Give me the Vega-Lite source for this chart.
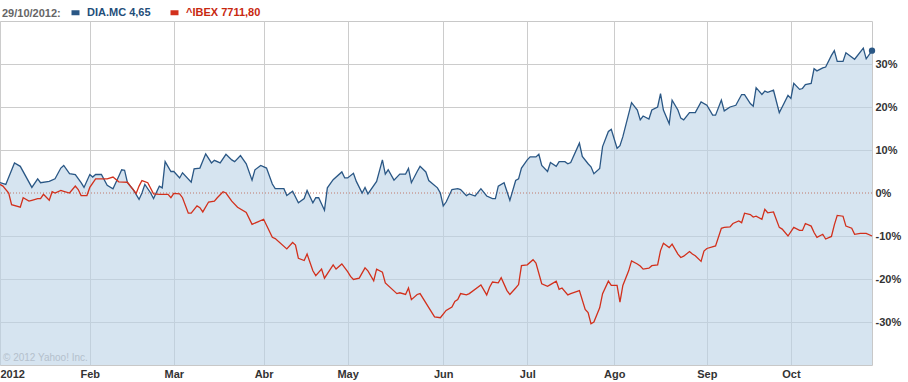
{
"$schema": "https://vega.github.io/schema/vega-lite/v6.json",
"width": 872, "height": 344,
"autosize": {"type": "none"},
"padding": {"left": 0, "top": 21, "right": 36, "bottom": 17},
"background": "white",
"config": {"view": {"stroke": "#c8c8c8", "strokeWidth": 1}, "font": "Liberation Sans"},
"datasets": {
"credit": [{"d": "2012-01-02", "v": -38.3, "t": "© 2012 Yahoo! Inc."}],
"zero": [{"v": 0}],
"prices": [
{"d":"2012-01-02","s":"DIA.MC","v":2.4},{"d":"2012-01-04","s":"DIA.MC","v":2.0},{"d":"2012-01-07","s":"DIA.MC","v":7.0},{"d":"2012-01-09","s":"DIA.MC","v":6.2},{"d":"2012-01-13","s":"DIA.MC","v":1.3},{"d":"2012-01-15","s":"DIA.MC","v":3.3},{"d":"2012-01-16","s":"DIA.MC","v":2.4},{"d":"2012-01-19","s":"DIA.MC","v":2.7},{"d":"2012-01-21","s":"DIA.MC","v":3.3},{"d":"2012-01-23","s":"DIA.MC","v":5.8},{"d":"2012-01-24","s":"DIA.MC","v":6.4},{"d":"2012-01-26","s":"DIA.MC","v":4.5},{"d":"2012-01-28","s":"DIA.MC","v":4.3},{"d":"2012-01-30","s":"DIA.MC","v":2.4},{"d":"2012-01-31","s":"DIA.MC","v":1.3},
{"d":"2012-02-02","s":"DIA.MC","v":4.3},{"d":"2012-02-03","s":"DIA.MC","v":3.7},{"d":"2012-02-04","s":"DIA.MC","v":4.3},{"d":"2012-02-06","s":"DIA.MC","v":4.3},{"d":"2012-02-08","s":"DIA.MC","v":1.8},{"d":"2012-02-10","s":"DIA.MC","v":1.0},{"d":"2012-02-12","s":"DIA.MC","v":3.9},{"d":"2012-02-13","s":"DIA.MC","v":5.4},{"d":"2012-02-14","s":"DIA.MC","v":5.3},{"d":"2012-02-15","s":"DIA.MC","v":2.4},{"d":"2012-02-17","s":"DIA.MC","v":0.8},{"d":"2012-02-19","s":"DIA.MC","v":-1.5},{"d":"2012-02-20","s":"DIA.MC","v":0.0},{"d":"2012-02-21","s":"DIA.MC","v":2.0},{"d":"2012-02-23","s":"DIA.MC","v":0.0},{"d":"2012-02-24","s":"DIA.MC","v":-1.3},{"d":"2012-02-26","s":"DIA.MC","v":1.6},{"d":"2012-02-27","s":"DIA.MC","v":1.2},{"d":"2012-02-28","s":"DIA.MC","v":7.3},
{"d":"2012-03-01","s":"DIA.MC","v":5.0},{"d":"2012-03-02","s":"DIA.MC","v":5.0},{"d":"2012-03-04","s":"DIA.MC","v":3.5},{"d":"2012-03-05","s":"DIA.MC","v":4.7},{"d":"2012-03-08","s":"DIA.MC","v":2.5},{"d":"2012-03-09","s":"DIA.MC","v":5.6},{"d":"2012-03-11","s":"DIA.MC","v":5.8},{"d":"2012-03-13","s":"DIA.MC","v":9.1},{"d":"2012-03-15","s":"DIA.MC","v":7.0},{"d":"2012-03-16","s":"DIA.MC","v":7.6},{"d":"2012-03-18","s":"DIA.MC","v":7.0},{"d":"2012-03-20","s":"DIA.MC","v":9.0},{"d":"2012-03-22","s":"DIA.MC","v":7.7},{"d":"2012-03-23","s":"DIA.MC","v":7.3},{"d":"2012-03-25","s":"DIA.MC","v":8.7},{"d":"2012-03-27","s":"DIA.MC","v":6.8},{"d":"2012-03-29","s":"DIA.MC","v":3.0},{"d":"2012-03-30","s":"DIA.MC","v":5.4},
{"d":"2012-04-01","s":"DIA.MC","v":6.4},{"d":"2012-04-03","s":"DIA.MC","v":5.8},{"d":"2012-04-05","s":"DIA.MC","v":2.1},{"d":"2012-04-06","s":"DIA.MC","v":1.0},{"d":"2012-04-09","s":"DIA.MC","v":1.0},{"d":"2012-04-10","s":"DIA.MC","v":-0.6},{"d":"2012-04-12","s":"DIA.MC","v":0.4},{"d":"2012-04-14","s":"DIA.MC","v":-2.3},{"d":"2012-04-16","s":"DIA.MC","v":-1.3},{"d":"2012-04-17","s":"DIA.MC","v":0.6},{"d":"2012-04-19","s":"DIA.MC","v":-2.3},{"d":"2012-04-20","s":"DIA.MC","v":-1.1},{"d":"2012-04-21","s":"DIA.MC","v":-1.1},{"d":"2012-04-23","s":"DIA.MC","v":-4.0},{"d":"2012-04-24","s":"DIA.MC","v":1.2},{"d":"2012-04-26","s":"DIA.MC","v":3.1},{"d":"2012-04-29","s":"DIA.MC","v":4.9},{"d":"2012-04-30","s":"DIA.MC","v":3.5},
{"d":"2012-05-01","s":"DIA.MC","v":3.5},{"d":"2012-05-03","s":"DIA.MC","v":4.6},{"d":"2012-05-04","s":"DIA.MC","v":2.7},{"d":"2012-05-06","s":"DIA.MC","v":0.0},{"d":"2012-05-07","s":"DIA.MC","v":1.3},{"d":"2012-05-08","s":"DIA.MC","v":-0.2},{"d":"2012-05-11","s":"DIA.MC","v":2.7},{"d":"2012-05-13","s":"DIA.MC","v":7.7},{"d":"2012-05-14","s":"DIA.MC","v":4.4},{"d":"2012-05-15","s":"DIA.MC","v":5.4},{"d":"2012-05-17","s":"DIA.MC","v":3.0},{"d":"2012-05-19","s":"DIA.MC","v":4.4},{"d":"2012-05-21","s":"DIA.MC","v":4.4},{"d":"2012-05-22","s":"DIA.MC","v":5.7},{"d":"2012-05-23","s":"DIA.MC","v":2.4},{"d":"2012-05-25","s":"DIA.MC","v":5.0},{"d":"2012-05-26","s":"DIA.MC","v":6.2},{"d":"2012-05-28","s":"DIA.MC","v":4.9},{"d":"2012-05-29","s":"DIA.MC","v":2.9},
{"d":"2012-06-01","s":"DIA.MC","v":1.2},{"d":"2012-06-02","s":"DIA.MC","v":0.0},{"d":"2012-06-03","s":"DIA.MC","v":-3.0},{"d":"2012-06-04","s":"DIA.MC","v":-2.1},{"d":"2012-06-06","s":"DIA.MC","v":0.8},{"d":"2012-06-08","s":"DIA.MC","v":1.0},{"d":"2012-06-09","s":"DIA.MC","v":0.8},{"d":"2012-06-11","s":"DIA.MC","v":-0.6},{"d":"2012-06-12","s":"DIA.MC","v":-0.2},{"d":"2012-06-14","s":"DIA.MC","v":-0.7},{"d":"2012-06-16","s":"DIA.MC","v":1.0},{"d":"2012-06-18","s":"DIA.MC","v":-0.7},{"d":"2012-06-20","s":"DIA.MC","v":-1.3},{"d":"2012-06-21","s":"DIA.MC","v":-1.3},{"d":"2012-06-22","s":"DIA.MC","v":1.6},{"d":"2012-06-24","s":"DIA.MC","v":2.4},{"d":"2012-06-26","s":"DIA.MC","v":-1.7},{"d":"2012-06-28","s":"DIA.MC","v":2.9},{"d":"2012-06-29","s":"DIA.MC","v":3.3},{"d":"2012-06-30","s":"DIA.MC","v":5.8},
{"d":"2012-07-02","s":"DIA.MC","v":7.7},{"d":"2012-07-03","s":"DIA.MC","v":8.4},{"d":"2012-07-05","s":"DIA.MC","v":8.4},{"d":"2012-07-06","s":"DIA.MC","v":9.0},{"d":"2012-07-07","s":"DIA.MC","v":6.4},{"d":"2012-07-09","s":"DIA.MC","v":5.0},{"d":"2012-07-10","s":"DIA.MC","v":7.1},{"d":"2012-07-12","s":"DIA.MC","v":6.2},{"d":"2012-07-13","s":"DIA.MC","v":7.3},{"d":"2012-07-15","s":"DIA.MC","v":7.3},{"d":"2012-07-16","s":"DIA.MC","v":6.8},{"d":"2012-07-17","s":"DIA.MC","v":7.1},{"d":"2012-07-20","s":"DIA.MC","v":11.6},{"d":"2012-07-21","s":"DIA.MC","v":8.5},{"d":"2012-07-23","s":"DIA.MC","v":6.8},{"d":"2012-07-24","s":"DIA.MC","v":6.1},{"d":"2012-07-25","s":"DIA.MC","v":4.5},{"d":"2012-07-27","s":"DIA.MC","v":5.7},{"d":"2012-07-28","s":"DIA.MC","v":10.8},{"d":"2012-07-30","s":"DIA.MC","v":14.3},{"d":"2012-07-31","s":"DIA.MC","v":14.8},
{"d":"2012-08-02","s":"DIA.MC","v":10.4},{"d":"2012-08-03","s":"DIA.MC","v":11.0},{"d":"2012-08-04","s":"DIA.MC","v":13.1},{"d":"2012-08-07","s":"DIA.MC","v":21.0},{"d":"2012-08-09","s":"DIA.MC","v":19.3},{"d":"2012-08-10","s":"DIA.MC","v":17.0},{"d":"2012-08-11","s":"DIA.MC","v":17.9},{"d":"2012-08-13","s":"DIA.MC","v":17.2},{"d":"2012-08-14","s":"DIA.MC","v":19.3},{"d":"2012-08-16","s":"DIA.MC","v":20.0},{"d":"2012-08-17","s":"DIA.MC","v":23.1},{"d":"2012-08-18","s":"DIA.MC","v":19.3},{"d":"2012-08-20","s":"DIA.MC","v":16.1},{"d":"2012-08-21","s":"DIA.MC","v":21.6},{"d":"2012-08-23","s":"DIA.MC","v":19.3},{"d":"2012-08-24","s":"DIA.MC","v":17.4},{"d":"2012-08-25","s":"DIA.MC","v":17.0},{"d":"2012-08-27","s":"DIA.MC","v":18.7},{"d":"2012-08-29","s":"DIA.MC","v":18.7},{"d":"2012-08-31","s":"DIA.MC","v":21.2},
{"d":"2012-09-02","s":"DIA.MC","v":20.4},{"d":"2012-09-04","s":"DIA.MC","v":18.1},{"d":"2012-09-05","s":"DIA.MC","v":18.1},{"d":"2012-09-07","s":"DIA.MC","v":21.6},{"d":"2012-09-08","s":"DIA.MC","v":19.1},{"d":"2012-09-10","s":"DIA.MC","v":20.0},{"d":"2012-09-12","s":"DIA.MC","v":20.4},{"d":"2012-09-14","s":"DIA.MC","v":22.9},{"d":"2012-09-15","s":"DIA.MC","v":22.9},{"d":"2012-09-17","s":"DIA.MC","v":20.8},{"d":"2012-09-18","s":"DIA.MC","v":20.2},{"d":"2012-09-19","s":"DIA.MC","v":24.5},{"d":"2012-09-21","s":"DIA.MC","v":22.9},{"d":"2012-09-22","s":"DIA.MC","v":23.7},{"d":"2012-09-23","s":"DIA.MC","v":23.4},{"d":"2012-09-25","s":"DIA.MC","v":23.9},{"d":"2012-09-27","s":"DIA.MC","v":18.7},{"d":"2012-09-28","s":"DIA.MC","v":20.0},{"d":"2012-09-30","s":"DIA.MC","v":22.7},
{"d":"2012-10-01","s":"DIA.MC","v":22.0},{"d":"2012-10-02","s":"DIA.MC","v":25.5},{"d":"2012-10-04","s":"DIA.MC","v":24.1},{"d":"2012-10-05","s":"DIA.MC","v":24.3},{"d":"2012-10-06","s":"DIA.MC","v":25.2},{"d":"2012-10-08","s":"DIA.MC","v":25.5},{"d":"2012-10-09","s":"DIA.MC","v":28.9},{"d":"2012-10-10","s":"DIA.MC","v":28.4},{"d":"2012-10-12","s":"DIA.MC","v":29.1},{"d":"2012-10-13","s":"DIA.MC","v":29.3},{"d":"2012-10-15","s":"DIA.MC","v":32.0},{"d":"2012-10-16","s":"DIA.MC","v":33.1},{"d":"2012-10-17","s":"DIA.MC","v":30.6},{"d":"2012-10-19","s":"DIA.MC","v":30.6},{"d":"2012-10-20","s":"DIA.MC","v":32.6},{"d":"2012-10-23","s":"DIA.MC","v":31.1},{"d":"2012-10-26","s":"DIA.MC","v":33.7},{"d":"2012-10-27","s":"DIA.MC","v":31.2},{"d":"2012-10-29","s":"DIA.MC","v":33.1},
{"d":"2012-01-02","s":"^IBEX","v":2.0},{"d":"2012-01-03","s":"^IBEX","v":1.6},{"d":"2012-01-05","s":"^IBEX","v":0.0},{"d":"2012-01-06","s":"^IBEX","v":-2.7},{"d":"2012-01-09","s":"^IBEX","v":-3.3},{"d":"2012-01-10","s":"^IBEX","v":-1.1},{"d":"2012-01-12","s":"^IBEX","v":-1.9},{"d":"2012-01-13","s":"^IBEX","v":-1.7},{"d":"2012-01-15","s":"^IBEX","v":-1.3},{"d":"2012-01-16","s":"^IBEX","v":-1.3},{"d":"2012-01-17","s":"^IBEX","v":-0.3},{"d":"2012-01-19","s":"^IBEX","v":-1.7},{"d":"2012-01-20","s":"^IBEX","v":0.3},{"d":"2012-01-21","s":"^IBEX","v":0.0},{"d":"2012-01-23","s":"^IBEX","v":0.6},{"d":"2012-01-24","s":"^IBEX","v":0.4},{"d":"2012-01-26","s":"^IBEX","v":0.0},{"d":"2012-01-28","s":"^IBEX","v":1.6},{"d":"2012-01-29","s":"^IBEX","v":0.8},{"d":"2012-01-30","s":"^IBEX","v":-0.6},
{"d":"2012-02-01","s":"^IBEX","v":-0.6},{"d":"2012-02-02","s":"^IBEX","v":1.3},{"d":"2012-02-04","s":"^IBEX","v":3.3},{"d":"2012-02-06","s":"^IBEX","v":3.3},{"d":"2012-02-08","s":"^IBEX","v":3.3},{"d":"2012-02-10","s":"^IBEX","v":3.7},{"d":"2012-02-12","s":"^IBEX","v":2.6},{"d":"2012-02-15","s":"^IBEX","v":2.5},{"d":"2012-02-16","s":"^IBEX","v":1.6},{"d":"2012-02-18","s":"^IBEX","v":-0.1},{"d":"2012-02-19","s":"^IBEX","v":1.6},{"d":"2012-02-20","s":"^IBEX","v":2.9},{"d":"2012-02-22","s":"^IBEX","v":2.4},{"d":"2012-02-24","s":"^IBEX","v":-0.2},{"d":"2012-02-26","s":"^IBEX","v":-0.3},{"d":"2012-02-29","s":"^IBEX","v":-0.3},
{"d":"2012-03-01","s":"^IBEX","v":-1.1},{"d":"2012-03-02","s":"^IBEX","v":-0.1},{"d":"2012-03-04","s":"^IBEX","v":-0.2},{"d":"2012-03-05","s":"^IBEX","v":-1.1},{"d":"2012-03-07","s":"^IBEX","v":-4.7},{"d":"2012-03-08","s":"^IBEX","v":-4.7},{"d":"2012-03-10","s":"^IBEX","v":-3.0},{"d":"2012-03-11","s":"^IBEX","v":-3.4},{"d":"2012-03-12","s":"^IBEX","v":-4.4},{"d":"2012-03-14","s":"^IBEX","v":-2.1},{"d":"2012-03-16","s":"^IBEX","v":-1.9},{"d":"2012-03-17","s":"^IBEX","v":-1.1},{"d":"2012-03-19","s":"^IBEX","v":0.3},{"d":"2012-03-20","s":"^IBEX","v":0.0},{"d":"2012-03-22","s":"^IBEX","v":-1.9},{"d":"2012-03-24","s":"^IBEX","v":-3.3},{"d":"2012-03-27","s":"^IBEX","v":-4.5},{"d":"2012-03-29","s":"^IBEX","v":-7.3},{"d":"2012-03-31","s":"^IBEX","v":-6.7},
{"d":"2012-04-02","s":"^IBEX","v":-6.1},{"d":"2012-04-05","s":"^IBEX","v":-10.3},{"d":"2012-04-06","s":"^IBEX","v":-10.6},{"d":"2012-04-10","s":"^IBEX","v":-13.0},{"d":"2012-04-12","s":"^IBEX","v":-11.5},{"d":"2012-04-13","s":"^IBEX","v":-12.1},{"d":"2012-04-14","s":"^IBEX","v":-15.2},{"d":"2012-04-16","s":"^IBEX","v":-15.7},{"d":"2012-04-17","s":"^IBEX","v":-14.2},{"d":"2012-04-19","s":"^IBEX","v":-18.1},{"d":"2012-04-20","s":"^IBEX","v":-19.2},{"d":"2012-04-22","s":"^IBEX","v":-17.7},{"d":"2012-04-23","s":"^IBEX","v":-19.8},{"d":"2012-04-26","s":"^IBEX","v":-16.7},{"d":"2012-04-27","s":"^IBEX","v":-17.7},{"d":"2012-04-29","s":"^IBEX","v":-16.5},
{"d":"2012-05-01","s":"^IBEX","v":-18.3},{"d":"2012-05-02","s":"^IBEX","v":-19.4},{"d":"2012-05-03","s":"^IBEX","v":-20.1},{"d":"2012-05-05","s":"^IBEX","v":-19.8},{"d":"2012-05-07","s":"^IBEX","v":-17.4},{"d":"2012-05-08","s":"^IBEX","v":-18.1},{"d":"2012-05-10","s":"^IBEX","v":-20.4},{"d":"2012-05-11","s":"^IBEX","v":-17.7},{"d":"2012-05-13","s":"^IBEX","v":-18.4},{"d":"2012-05-14","s":"^IBEX","v":-20.9},{"d":"2012-05-18","s":"^IBEX","v":-23.4},{"d":"2012-05-19","s":"^IBEX","v":-23.2},{"d":"2012-05-21","s":"^IBEX","v":-23.6},{"d":"2012-05-22","s":"^IBEX","v":-22.1},{"d":"2012-05-23","s":"^IBEX","v":-24.8},{"d":"2012-05-25","s":"^IBEX","v":-23.6},{"d":"2012-05-26","s":"^IBEX","v":-23.4},{"d":"2012-05-31","s":"^IBEX","v":-28.8},
{"d":"2012-06-02","s":"^IBEX","v":-29.0},{"d":"2012-06-04","s":"^IBEX","v":-27.3},{"d":"2012-06-06","s":"^IBEX","v":-26.5},{"d":"2012-06-07","s":"^IBEX","v":-25.2},{"d":"2012-06-08","s":"^IBEX","v":-24.8},{"d":"2012-06-09","s":"^IBEX","v":-23.4},{"d":"2012-06-11","s":"^IBEX","v":-23.7},{"d":"2012-06-12","s":"^IBEX","v":-23.4},{"d":"2012-06-16","s":"^IBEX","v":-21.4},{"d":"2012-06-18","s":"^IBEX","v":-23.7},{"d":"2012-06-19","s":"^IBEX","v":-21.9},{"d":"2012-06-20","s":"^IBEX","v":-20.7},{"d":"2012-06-22","s":"^IBEX","v":-20.9},{"d":"2012-06-23","s":"^IBEX","v":-19.7},{"d":"2012-06-25","s":"^IBEX","v":-22.7},{"d":"2012-06-26","s":"^IBEX","v":-23.6},{"d":"2012-06-28","s":"^IBEX","v":-22.1},{"d":"2012-06-29","s":"^IBEX","v":-21.3},{"d":"2012-06-30","s":"^IBEX","v":-16.9},
{"d":"2012-07-02","s":"^IBEX","v":-16.7},{"d":"2012-07-04","s":"^IBEX","v":-15.5},{"d":"2012-07-05","s":"^IBEX","v":-16.3},{"d":"2012-07-07","s":"^IBEX","v":-21.1},{"d":"2012-07-09","s":"^IBEX","v":-21.7},{"d":"2012-07-10","s":"^IBEX","v":-21.3},{"d":"2012-07-12","s":"^IBEX","v":-20.5},{"d":"2012-07-13","s":"^IBEX","v":-22.4},{"d":"2012-07-14","s":"^IBEX","v":-22.1},{"d":"2012-07-16","s":"^IBEX","v":-23.7},{"d":"2012-07-17","s":"^IBEX","v":-23.4},{"d":"2012-07-20","s":"^IBEX","v":-22.7},{"d":"2012-07-22","s":"^IBEX","v":-27.1},{"d":"2012-07-23","s":"^IBEX","v":-27.8},{"d":"2012-07-24","s":"^IBEX","v":-30.4},{"d":"2012-07-25","s":"^IBEX","v":-30.0},{"d":"2012-07-27","s":"^IBEX","v":-26.7},{"d":"2012-07-28","s":"^IBEX","v":-23.4},{"d":"2012-07-30","s":"^IBEX","v":-20.5},{"d":"2012-07-31","s":"^IBEX","v":-21.5},
{"d":"2012-08-02","s":"^IBEX","v":-21.5},{"d":"2012-08-03","s":"^IBEX","v":-25.4},{"d":"2012-08-04","s":"^IBEX","v":-21.5},{"d":"2012-08-06","s":"^IBEX","v":-18.1},{"d":"2012-08-07","s":"^IBEX","v":-15.8},{"d":"2012-08-09","s":"^IBEX","v":-16.5},{"d":"2012-08-10","s":"^IBEX","v":-17.0},{"d":"2012-08-11","s":"^IBEX","v":-17.7},{"d":"2012-08-13","s":"^IBEX","v":-17.5},{"d":"2012-08-14","s":"^IBEX","v":-16.9},{"d":"2012-08-16","s":"^IBEX","v":-16.7},{"d":"2012-08-17","s":"^IBEX","v":-13.4},{"d":"2012-08-18","s":"^IBEX","v":-11.7},{"d":"2012-08-20","s":"^IBEX","v":-12.7},{"d":"2012-08-21","s":"^IBEX","v":-11.9},{"d":"2012-08-23","s":"^IBEX","v":-14.2},{"d":"2012-08-24","s":"^IBEX","v":-15.0},{"d":"2012-08-25","s":"^IBEX","v":-14.7},{"d":"2012-08-27","s":"^IBEX","v":-13.6},{"d":"2012-08-28","s":"^IBEX","v":-14.2},{"d":"2012-08-29","s":"^IBEX","v":-14.6},{"d":"2012-08-31","s":"^IBEX","v":-15.9},
{"d":"2012-09-01","s":"^IBEX","v":-13.5},{"d":"2012-09-02","s":"^IBEX","v":-12.9},{"d":"2012-09-05","s":"^IBEX","v":-12.3},{"d":"2012-09-07","s":"^IBEX","v":-8.2},{"d":"2012-09-08","s":"^IBEX","v":-8.0},{"d":"2012-09-10","s":"^IBEX","v":-7.9},{"d":"2012-09-11","s":"^IBEX","v":-7.1},{"d":"2012-09-13","s":"^IBEX","v":-6.5},{"d":"2012-09-14","s":"^IBEX","v":-6.9},{"d":"2012-09-15","s":"^IBEX","v":-4.7},{"d":"2012-09-17","s":"^IBEX","v":-5.0},{"d":"2012-09-18","s":"^IBEX","v":-5.6},{"d":"2012-09-19","s":"^IBEX","v":-5.4},{"d":"2012-09-21","s":"^IBEX","v":-6.1},{"d":"2012-09-22","s":"^IBEX","v":-3.8},{"d":"2012-09-23","s":"^IBEX","v":-4.6},{"d":"2012-09-25","s":"^IBEX","v":-4.4},{"d":"2012-09-27","s":"^IBEX","v":-8.0},{"d":"2012-09-28","s":"^IBEX","v":-8.4},{"d":"2012-09-30","s":"^IBEX","v":-10.0},
{"d":"2012-10-02","s":"^IBEX","v":-8.0},{"d":"2012-10-04","s":"^IBEX","v":-8.7},{"d":"2012-10-05","s":"^IBEX","v":-8.7},{"d":"2012-10-06","s":"^IBEX","v":-7.1},{"d":"2012-10-08","s":"^IBEX","v":-7.7},{"d":"2012-10-09","s":"^IBEX","v":-9.2},{"d":"2012-10-10","s":"^IBEX","v":-10.3},{"d":"2012-10-12","s":"^IBEX","v":-9.6},{"d":"2012-10-13","s":"^IBEX","v":-10.7},{"d":"2012-10-15","s":"^IBEX","v":-10.1},{"d":"2012-10-16","s":"^IBEX","v":-7.4},{"d":"2012-10-17","s":"^IBEX","v":-5.2},{"d":"2012-10-19","s":"^IBEX","v":-5.4},{"d":"2012-10-20","s":"^IBEX","v":-7.7},{"d":"2012-10-22","s":"^IBEX","v":-8.2},{"d":"2012-10-23","s":"^IBEX","v":-9.6},{"d":"2012-10-25","s":"^IBEX","v":-9.4},{"d":"2012-10-27","s":"^IBEX","v":-9.4},{"d":"2012-10-29","s":"^IBEX","v":-10.0}
]
},
"layer": [
{
"data": {"name": "prices"},
"transform": [{"filter": "datum.s == 'DIA.MC'"}],
"mark": {"type": "area", "color": "#bbd2e6", "opacity": 0.6},
"encoding": {
"x": {"field": "d", "type": "temporal",
 "scale": {"type": "utc", "domain": [{"year": 2012, "month": 1, "date": 2, "utc": true}, {"year": 2012, "month": 10, "date": 29, "utc": true}]},
 "axis": {"title": null, "orient": "bottom",
  "values": [{"year": 2012, "month": 1, "date": 2, "utc": true}, {"year": 2012, "month": 2, "date": 2, "utc": true}, {"year": 2012, "month": 3, "date": 2, "utc": true}, {"year": 2012, "month": 4, "date": 2, "utc": true}, {"year": 2012, "month": 5, "date": 1, "utc": true}, {"year": 2012, "month": 6, "date": 3, "utc": true}, {"year": 2012, "month": 7, "date": 2, "utc": true}, {"year": 2012, "month": 8, "date": 1, "utc": true}, {"year": 2012, "month": 9, "date": 2, "utc": true}, {"year": 2012, "month": 10, "date": 1, "utc": true}],
  "labelExpr": "utcmonth(datum.value) == 0 ? '2012' : ['Ene','Feb','Mar','Abr','May','Jun','Jul','Ago','Sep','Oct','Nov','Dic'][utcmonth(datum.value)]",
  "labelFlush": true, "labelOverlap": false, "labelFont": "Liberation Sans", "labelFontSize": 11, "labelFontWeight": "bold", "labelColor": "#333333", "labelPadding": 3,
  "ticks": false, "domain": false, "grid": true, "gridColor": "#cccccc", "gridWidth": 1}},
"y": {"field": "v", "type": "quantitative",
 "scale": {"domain": [-40, 40], "zero": false, "nice": false},
 "axis": {"title": null, "orient": "right", "values": [-30, -20, -10, 0, 10, 20, 30],
  "labelExpr": "datum.value + '%'", "labelFont": "Liberation Sans", "labelFontSize": 11, "labelFontWeight": "bold", "labelColor": "#333333", "labelPadding": 3,
  "ticks": false, "domain": false, "grid": true,
  "gridColor": {"condition": {"test": "datum.value === 0", "value": "transparent"}, "value": "#cccccc"}}},
"y2": {"datum": -40}
}
},
{
"data": {"name": "zero"},
"mark": {"type": "rule", "color": "#c0786a", "strokeDash": [1, 2], "strokeWidth": 1},
"encoding": {"y": {"field": "v", "type": "quantitative", "scale": {"domain": [-40, 40], "zero": false, "nice": false}, "axis": {"title": null}}}
},
{
"data": {"name": "prices"},
"mark": {"type": "line", "strokeWidth": 1.3},
"encoding": {
"x": {"field": "d", "type": "temporal", "scale": {"type": "utc", "domain": [{"year": 2012, "month": 1, "date": 2, "utc": true}, {"year": 2012, "month": 10, "date": 29, "utc": true}]}, "axis": {"title": null}},
"y": {"field": "v", "type": "quantitative", "scale": {"domain": [-40, 40], "zero": false, "nice": false}, "axis": {"title": null}},
"color": {"field": "s", "type": "nominal",
 "scale": {"domain": ["DIA.MC", "^IBEX"], "range": ["#2a5785", "#d2301c"]},
 "legend": {"title": "29/10/2012:", "orient": "none", "legendX": 2, "legendY": -15, "direction": "horizontal",
  "titleOrient": "left", "titleFont": "Liberation Sans", "titleFontSize": 11, "titleFontWeight": "bold", "titleColor": "#666666", "titlePadding": 8,
  "symbolType": "stroke", "symbolSize": 64, "symbolStrokeWidth": 5,
  "labelFont": "Liberation Sans", "labelFontSize": 11, "labelFontWeight": "bold", "labelOffset": 5, "columnPadding": 9, "padding": 0,
  "labelExpr": "datum.label == 'DIA.MC' ? 'DIA.MC 4,65' : '^IBEX 7711,80'",
  "encode": {"labels": {"update": {"fill": {"signal": "datum.value == 'DIA.MC' ? '#1f4e7a' : '#c8280f'"}}}}}}
}
},
{
"data": {"name": "prices"},
"transform": [{"filter": "datum.s == 'DIA.MC' && time(toDate(datum.d)) == utc(2012, 9, 29)"}],
"mark": {"type": "point", "filled": true, "size": 40, "color": "#2a5785", "opacity": 1},
"encoding": {
"x": {"field": "d", "type": "temporal", "scale": {"type": "utc", "domain": [{"year": 2012, "month": 1, "date": 2, "utc": true}, {"year": 2012, "month": 10, "date": 29, "utc": true}]}, "axis": {"title": null}},
"y": {"field": "v", "type": "quantitative", "scale": {"domain": [-40, 40], "zero": false, "nice": false}, "axis": {"title": null}}
}
},
{
"data": {"name": "credit"},
"mark": {"type": "text", "align": "left", "baseline": "middle", "dx": 3, "fontSize": 10, "font": "Liberation Sans", "color": "#b4c0cc"},
"encoding": {
"x": {"field": "d", "type": "temporal", "scale": {"type": "utc", "domain": [{"year": 2012, "month": 1, "date": 2, "utc": true}, {"year": 2012, "month": 10, "date": 29, "utc": true}]}, "axis": {"title": null}},
"y": {"field": "v", "type": "quantitative", "scale": {"domain": [-40, 40], "zero": false, "nice": false}, "axis": {"title": null}},
"text": {"field": "t"}
}
}
]
}
